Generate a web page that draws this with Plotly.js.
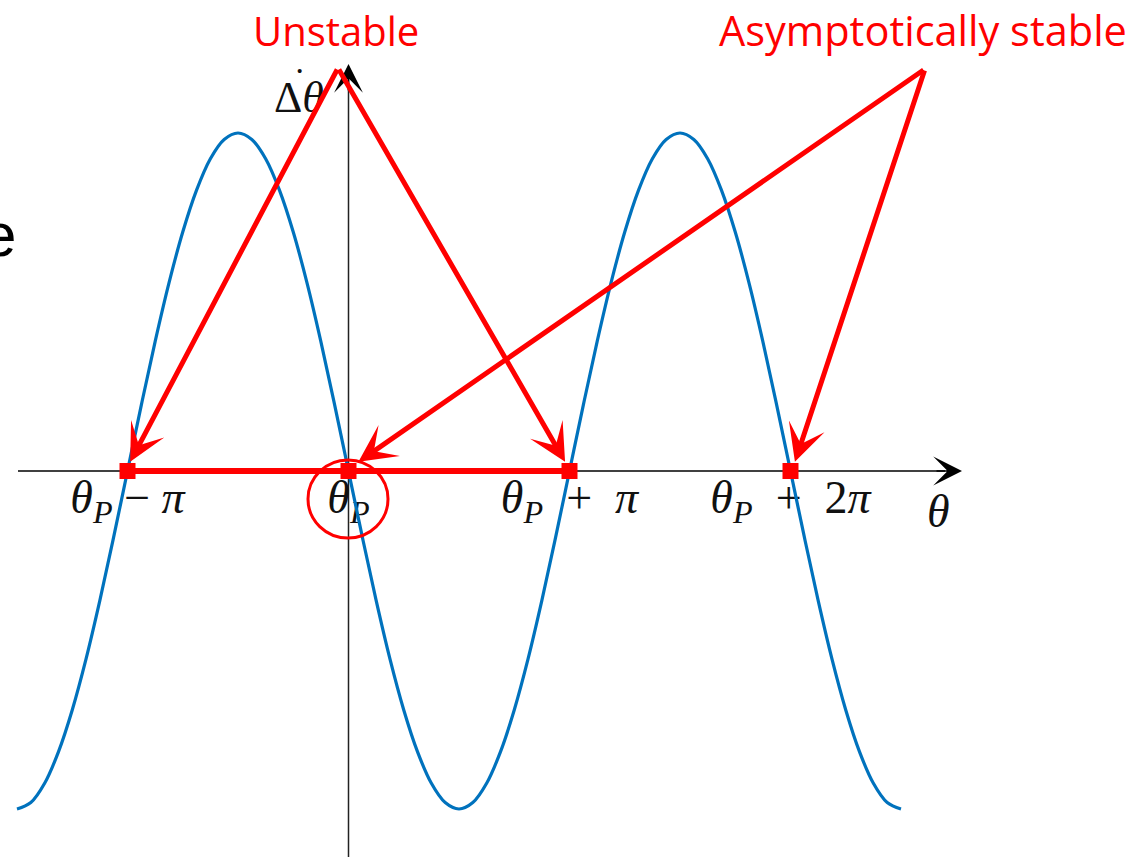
<!DOCTYPE html>
<html>
<head>
<meta charset="utf-8">
<script src="https://cdn.plot.ly/plotly-3.0.1.min.js"></script>
<style>html,body{margin:0;padding:0;background:#fff;}#chart{width:1132px;height:857px;}</style>
</head>
<body>
<div id="chart"></div>
<script>
// theta measured in units of pi, relative to theta_P (sampled every pi/16)
const thetaVals = [
  -1.5, -1.4375, -1.375, -1.3125, -1.25, -1.1875, -1.125, -1.0625,
  -1, -0.9375, -0.875, -0.8125, -0.75, -0.6875, -0.625, -0.5625,
  -0.5, -0.4375, -0.375, -0.3125, -0.25, -0.1875, -0.125, -0.0625,
  0, 0.0625, 0.125, 0.1875, 0.25, 0.3125, 0.375, 0.4375,
  0.5, 0.5625, 0.625, 0.6875, 0.75, 0.8125, 0.875, 0.9375,
  1, 1.0625, 1.125, 1.1875, 1.25, 1.3125, 1.375, 1.4375,
  1.5, 1.5625, 1.625, 1.6875, 1.75, 1.8125, 1.875, 1.9375,
  2, 2.0625, 2.125, 2.1875, 2.25, 2.3125, 2.375, 2.4375, 2.5];
const dThetaVals = [
  -1, -0.981, -0.924, -0.831, -0.707, -0.556, -0.383, -0.195,
  0, 0.195, 0.383, 0.556, 0.707, 0.831, 0.924, 0.981,
  1, 0.981, 0.924, 0.831, 0.707, 0.556, 0.383, 0.195,
  0, -0.195, -0.383, -0.556, -0.707, -0.831, -0.924, -0.981,
  -1, -0.981, -0.924, -0.831, -0.707, -0.556, -0.383, -0.195,
  0, 0.195, 0.383, 0.556, 0.707, 0.831, 0.924, 0.981,
  1, 0.981, 0.924, 0.831, 0.707, 0.556, 0.383, 0.195,
  0, -0.195, -0.383, -0.556, -0.707, -0.831, -0.924, -0.981, -1];
const fixedPoints = [-1, 0, 1, 2];
const fixedPointValues = [0, 0, 0, 0];
const tickLabels = [
  '<i>θ</i><sub><i>P</i></sub> − <i>π</i>',
  '<i>θ</i><sub><i>P</i></sub>',
  '<i>θ</i><sub><i>P</i></sub>  +  <i>π</i>',
  '<i>θ</i><sub><i>P</i></sub>  +  2<i>π</i>'
];
const unstablePoints = [fixedPoints[0], fixedPoints[2]];
const stablePoints = [fixedPoints[1], fixedPoints[3]];
const unstableLabel = 'Unstable';
const stableLabel = 'Asymptotically stable';

// pixel -> data helpers for layout placement
const PX = p => (p - 348.5) / 221;
const PY = p => (471 - p) / 338;

const RED = '#FF0000';
const traces = [
  {x: thetaVals, y: dThetaVals, mode: 'lines', line: {color: '#0072BD', width: 3.2, shape: 'spline', smoothing: 1}, hoverinfo: 'skip'},
  {x: [fixedPoints[0], fixedPoints[2]], y: [fixedPointValues[0], fixedPointValues[2]], mode: 'lines', line: {color: RED, width: 6}, hoverinfo: 'skip'},
  {x: fixedPoints, y: fixedPointValues, mode: 'markers', marker: {symbol: 'square', size: 16, color: RED}, hoverinfo: 'skip'}
];

const serif = 'Liberation Serif, DejaVu Serif, serif';
const sans = 'Open Sans, Liberation Sans, sans-serif';

const arrowCommon = {xref: 'x', yref: 'y', axref: 'x', ayref: 'y', text: '', showarrow: true};
const redArrow = Object.assign({}, arrowCommon, {arrowhead: 3, arrowsize: 1.25, arrowwidth: 5, arrowcolor: RED});
const blackArrow = Object.assign({}, arrowCommon, {arrowhead: 3, arrowsize: 3, arrowwidth: 1.6, arrowcolor: '#000'});

const annotations = [
  // axis arrowheads
  Object.assign({}, blackArrow, {x: PX(962), y: 0, ax: PX(935), ay: 0}),
  Object.assign({}, blackArrow, {x: 0, y: PY(64), ax: 0, ay: PY(92)}),
  // axis labels
  {x: PX(938), y: PY(511), xref: 'x', yref: 'y', text: '<i>θ</i>', showarrow: false, font: {family: serif, size: 46, color: '#111'}},
  {x: PX(299), y: PY(97), xref: 'x', yref: 'y', text: 'Δ<i>θ</i>', showarrow: false, font: {family: serif, size: 44, color: '#111'}},
  {x: PX(299), y: PY(70), xref: 'x', yref: 'y', text: '·', showarrow: false, font: {family: serif, size: 34, color: '#111'}},
  // clipped text fragment at the left edge
  {x: PX(18), y: PY(234), xref: 'x', yref: 'y', xanchor: 'right', text: 'e', showarrow: false, font: {family: 'Liberation Sans, Arial, sans-serif', size: 62, color: '#000'}},
  // red labels
  {x: PX(336), y: PY(30), xref: 'x', yref: 'y', text: unstableLabel, showarrow: false, font: {family: sans, size: 40, color: RED}},
  {x: PX(923), y: PY(30), xref: 'x', yref: 'y', text: stableLabel, showarrow: false, font: {family: sans, size: 41.5, color: RED}},
  // red arrows
  Object.assign({}, redArrow, {x: unstablePoints[0] + 0.012, y: 0.027, ax: PX(338), ay: PY(68)}),
  Object.assign({}, redArrow, {x: unstablePoints[1] - 0.02, y: 0.027, ax: PX(338), ay: PY(68)}),
  Object.assign({}, redArrow, {x: stablePoints[0] + 0.045, y: 0.027, ax: PX(925), ay: PY(69)}),
  Object.assign({}, redArrow, {x: stablePoints[1] + 0.02, y: 0.027, ax: PX(925), ay: PY(69)})
];

const shapes = [
  {type: 'line', xref: 'x', yref: 'y', x0: PX(18), x1: PX(945), y0: 0, y1: 0, line: {color: '#000', width: 1.5}, layer: 'below'},
  {type: 'line', xref: 'x', yref: 'y', x0: 0, x1: 0, y0: PY(860), y1: PY(80), line: {color: '#222', width: 1.5}, layer: 'below'},
  {type: 'circle', xref: 'x', yref: 'y', x0: PX(308), x1: PX(388), y0: PY(538), y1: PY(460), line: {color: RED, width: 3}}
];

const layout = {
  width: 1132, height: 857,
  margin: {l: 0, r: 0, t: 0, b: 0},
  paper_bgcolor: '#fff', plot_bgcolor: '#fff',
  showlegend: false,
  xaxis: {
    range: [PX(0), PX(1132)], showgrid: false, zeroline: false, showline: false, ticks: '',
    tickmode: 'array', tickvals: fixedPoints, ticktext: tickLabels,
    tickfont: {family: serif, size: 46, color: '#111'},
    anchor: 'free', position: 1 - 471 / 857, layer: 'below traces', ticklabelstandoff: -5, fixedrange: true
  },
  yaxis: {range: [PY(857), PY(0)], visible: false, showgrid: false, zeroline: false, fixedrange: true},
  annotations: annotations,
  shapes: shapes
};

Plotly.newPlot('chart', traces, layout, {displayModeBar: false, staticPlot: true});
</script>
</body>
</html>
